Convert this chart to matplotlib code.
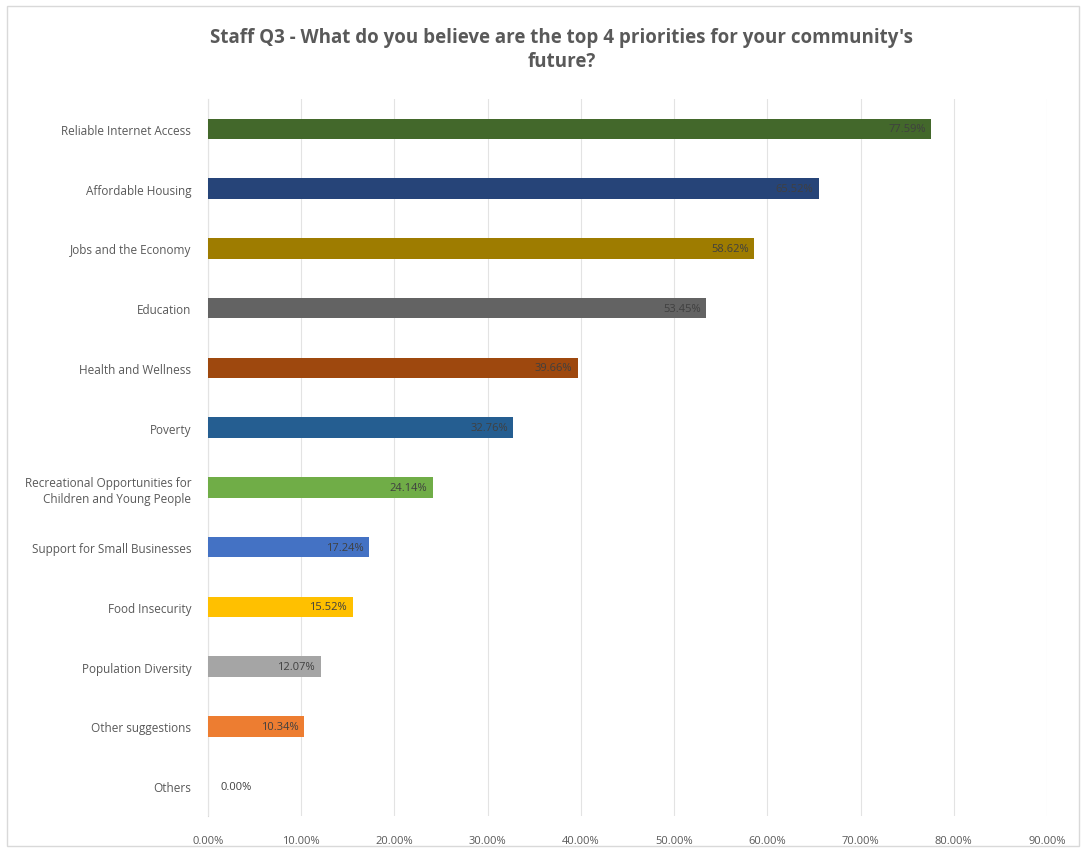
import matplotlib.pyplot as plt
from matplotlib.patches import Rectangle
from matplotlib.ticker import FuncFormatter

# survey responses, top to bottom as in the chart
categories = [
    "Reliable Internet Access",
    "Affordable Housing",
    "Jobs and the Economy",
    "Education",
    "Health and Wellness",
    "Poverty",
    "Recreational Opportunities for\nChildren and Young People",
    "Support for Small Businesses",
    "Food Insecurity",
    "Population Diversity",
    "Other suggestions",
    "Others",
]
percent = [77.59, 65.52, 58.62, 53.45, 39.66, 32.76, 24.14, 17.24, 15.52, 12.07, 10.34, 0.00]
colours = ["#43682B", "#264478", "#9E7C00", "#636363", "#9E480E", "#255E91",
           "#70AD47", "#4472C4", "#FFC000", "#A5A5A5", "#ED7D31", "#5B9BD5"]
xticks = [0, 10, 20, 30, 40, 50, 60, 70, 80, 90]

plt.rcParams["font.family"] = ["Open Sans", "DejaVu Sans"]

fig = plt.figure(figsize=(10.86, 8.54), dpi=100)
ax = fig.add_axes([208 / 1086, 1 - 817 / 854, (1047 - 208) / 1086, (817 - 100) / 854])

ypos = list(range(len(categories)))
ax.barh(ypos, percent, height=0.34, color=colours, zorder=3)
ax.set_ylim(len(categories) - 0.5, -0.5)
ax.set_xlim(0, 90)

for y, v in zip(ypos, percent):
    if v == 0:
        ax.annotate(f"{v:.2f}%", (v, y), xytext=(9, 0), textcoords="offset points",
                    ha="left", va="center", fontsize=8, color="#404040", zorder=4)
    else:
        ax.annotate(f"{v:.2f}%", (v, y), xytext=(-4, 0), textcoords="offset points",
                    ha="right", va="center", fontsize=8, color="#404040", zorder=4)

ax.set_yticks(ypos)
ax.set_yticklabels(categories, fontsize=8.5, color="#595959", linespacing=1.3)
ax.set_xticks(xticks)
ax.xaxis.set_major_formatter(FuncFormatter(lambda x, _: f"{x:.2f}%"))
ax.tick_params(axis="x", labelsize=8, labelcolor="#595959", length=0, pad=14)
ax.tick_params(axis="y", length=0, pad=12)
ax.grid(axis="x", color="#E3E3E3", linewidth=0.8, zorder=0)
for s in ["top", "right", "bottom"]:
    ax.spines[s].set_visible(False)
ax.spines["left"].set_color("#D9D9D9")
ax.spines["left"].set_zorder(1)

fig.text(0.517, 1 - 50 / 854,
         "Staff Q3 - What do you believe are the top 4 priorities for your community's\nfuture?",
         ha="center", va="center", fontsize=13.5, fontweight="bold", color="#595959",
         linespacing=1.3)

fig.patches.append(Rectangle((7 / 1086, 7 / 854), 1 - 14 / 1086, 1 - 14 / 854,
                             transform=fig.transFigure, fill=False,
                             edgecolor="#D9D9D9", linewidth=1))

fig.savefig("out.png", dpi=100)
